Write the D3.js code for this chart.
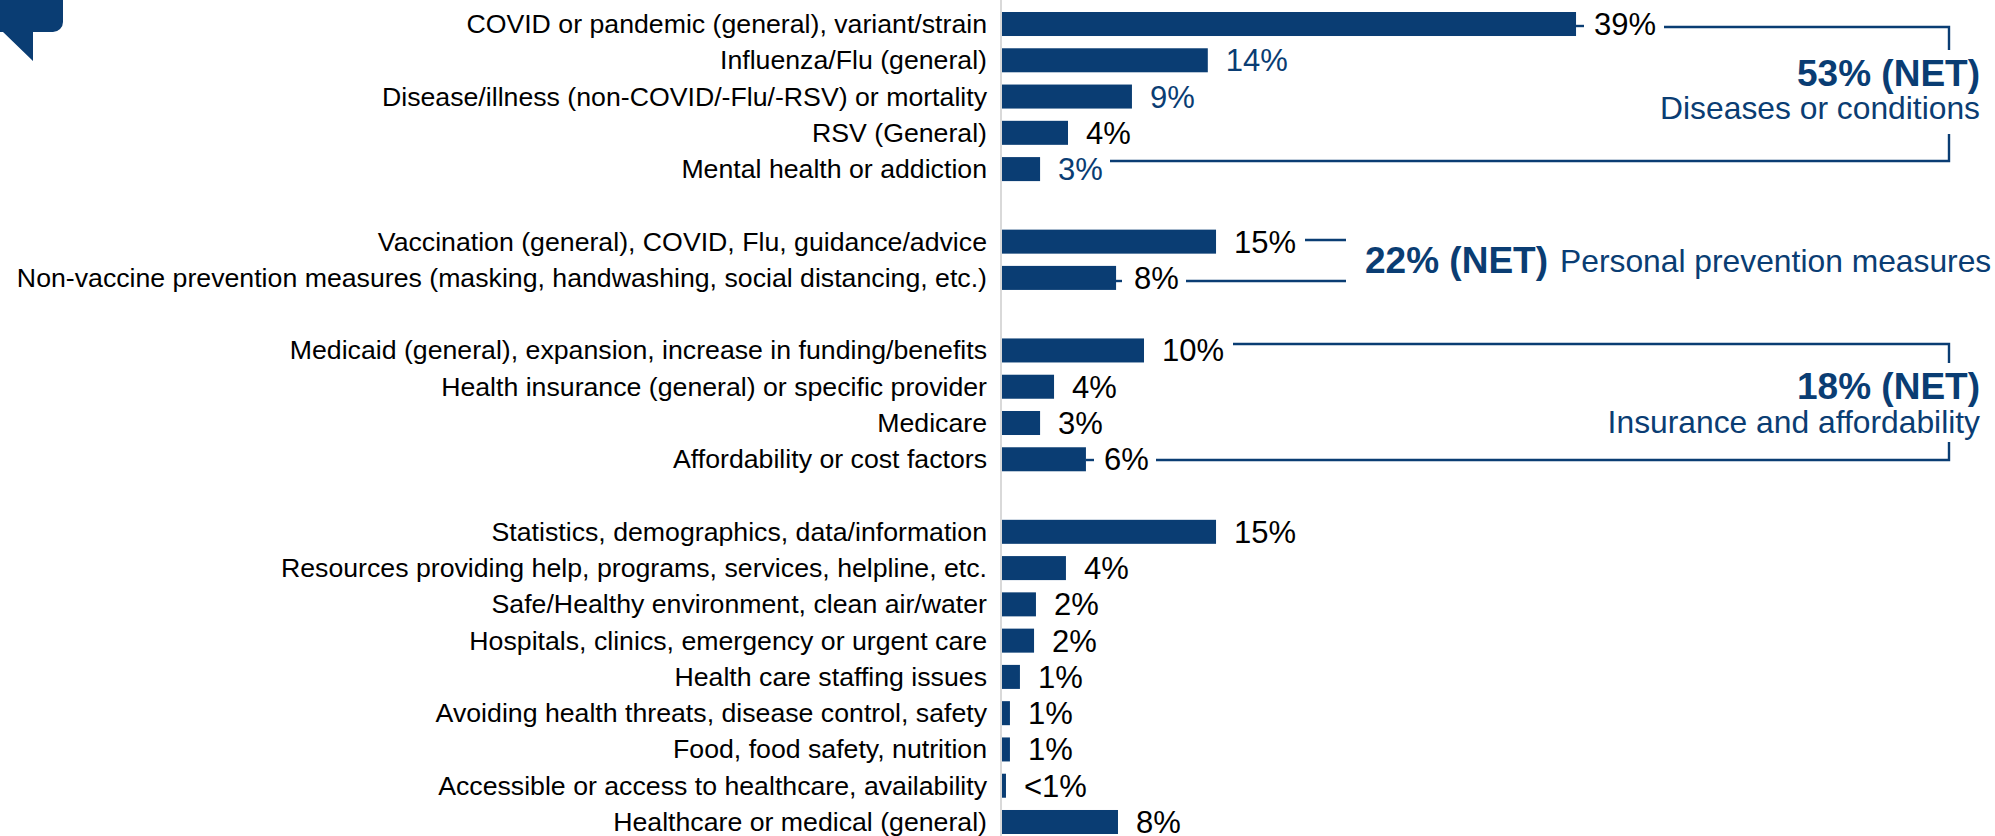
<!DOCTYPE html>
<html>
<head>
<meta charset="utf-8">
<script src="https://cdn.jsdelivr.net/npm/d3@7"></script>
<style>
  html, body { margin: 0; padding: 0; background: #fff; overflow: hidden; }
  text { font-family: "Liberation Sans", Arial, sans-serif; }
</style>
</head>
<body>
<svg id="chart" width="1995" height="836"></svg>
<script>
// rows top to bottom, "gap" entries are the blank rows between the groups
const categories = [
  "COVID or pandemic (general), variant/strain",
  "Influenza/Flu (general)",
  "Disease/illness (non-COVID/-Flu/-RSV) or mortality",
  "RSV (General)",
  "Mental health or addiction",
  "gap1",
  "Vaccination (general), COVID, Flu, guidance/advice",
  "Non-vaccine prevention measures (masking, handwashing, social distancing, etc.)",
  "gap2",
  "Medicaid (general), expansion, increase in funding/benefits",
  "Health insurance (general) or specific provider",
  "Medicare",
  "Affordability or cost factors",
  "gap3",
  "Statistics, demographics, data/information",
  "Resources providing help, programs, services, helpline, etc.",
  "Safe/Healthy environment, clean air/water",
  "Hospitals, clinics, emergency or urgent care",
  "Health care staffing issues",
  "Avoiding health threats, disease control, safety",
  "Food, food safety, nutrition",
  "Accessible or access to healthcare, availability",
  "Healthcare or medical (general)"
];

// bar lengths, the printed labels are rounded
const values = [39.05, 14.0, 8.84, 4.49, 2.59, null, 14.56, 7.76, null, 9.66, 3.54, 2.59, 5.71, null,
  14.56, 4.35, 2.31, 2.18, 1.22, 0.54, 0.54, 0.27, 7.89];
const valueLabels = ["39%", "14%", "9%", "4%", "3%", "", "15%", "8%", "", "10%", "4%", "3%", "6%", "",
  "15%", "4%", "2%", "2%", "1%", "1%", "1%", "<1%", "8%"];
const blueLabels = [
  "Influenza/Flu (general)",
  "Disease/illness (non-COVID/-Flu/-RSV) or mortality",
  "Mental health or addiction"
];

const netTotals = ["53% (NET)", "22% (NET)", "18% (NET)"];
const netNames = ["Diseases or conditions", "Personal prevention measures", "Insurance and affordability"];

const blue = "#0a3d73";
const axisGrey = "#d9d9d9";

let svg = d3.select("#chart");

let x = d3.scaleLinear().domain([0, 40]).range([1002, 1590]);
let y = d3.scaleBand().domain(categories).range([0, 822]).paddingInner(0.338).paddingOuter(0);

let rows = categories.map((c, i) => ({ name: c, value: values[i], label: valueLabels[i] }))
  .filter(d => d.value !== null);

// speech bubble corner top left
svg.append("path")
  .attr("d", "M0,0H63V22A10,10 0 0 1 53,32H33V61L3,32H0Z")
  .style("fill", blue);

// category axis, only the labels, the grey line is drawn below
let rowGroup = svg.append("g").attr("transform", "translate(0,12)");
let yAxis = d3.axisLeft(y)
  .tickSize(0)
  .tickPadding(14)
  .tickFormat(d => d.startsWith("gap") ? "" : d);
let axisG = rowGroup.append("g")
  .attr("transform", "translate(1001,0)")
  .call(yAxis);
axisG.select(".domain").remove();
axisG.selectAll("text")
  .attr("dy", 9)
  .style("font-family", '"Liberation Sans", Arial, sans-serif')
  .style("font-size", "26.7px")
  .style("fill", "#000");

svg.append("line")
  .attr("x1", 1001).attr("x2", 1001)
  .attr("y1", 0).attr("y2", 836)
  .style("stroke", axisGrey)
  .style("stroke-width", 2);

// bars
rowGroup.selectAll("rect.bar")
  .data(rows)
  .join("rect")
  .attr("class", "bar")
  .attr("x", x(0))
  .attr("y", d => y(d.name))
  .attr("width", d => x(d.value) - x(0))
  .attr("height", y.bandwidth())
  .style("fill", blue);

// value labels
rowGroup.selectAll("text.value")
  .data(rows)
  .join("text")
  .attr("class", "value")
  .attr("x", d => x(d.value) + 18)
  .attr("y", d => y(d.name) + y.bandwidth() / 2 + 11)
  .text(d => d.label)
  .style("font-size", "31px")
  .style("fill", d => blueLabels.includes(d.name) ? blue : "#000");

// net brackets
const brackets = [
  "M1576,26H1584", "M1664,27H1949V50", "M1110,161H1949V134",
  "M1305,240H1346", "M1116,281H1122", "M1186,281H1346",
  "M1233,344H1949V363", "M1086,460H1094", "M1156,460H1949V442"
];
svg.selectAll("path.bracket")
  .data(brackets)
  .join("path")
  .attr("class", "bracket")
  .attr("d", d => d)
  .style("fill", "none")
  .style("stroke", blue)
  .style("stroke-width", 2.4);

function netText(str, xPos, yPos, anchor, size, bold) {
  svg.append("text")
    .attr("x", xPos)
    .attr("y", yPos)
    .text(str)
    .style("text-anchor", anchor)
    .style("font-size", size + "px")
    .style("font-weight", bold ? "bold" : "normal")
    .style("fill", blue);
}

netText(netTotals[0], 1980, 86, "end", 37, true);
netText(netNames[0], 1980, 119, "end", 31.8, false);
netText(netTotals[1], 1365, 273, "start", 37, true);
netText(netNames[1], 1560, 272, "start", 31.8, false);
netText(netTotals[2], 1980, 399, "end", 37, true);
netText(netNames[2], 1980, 433, "end", 31.8, false);
</script>
</body>
</html>
